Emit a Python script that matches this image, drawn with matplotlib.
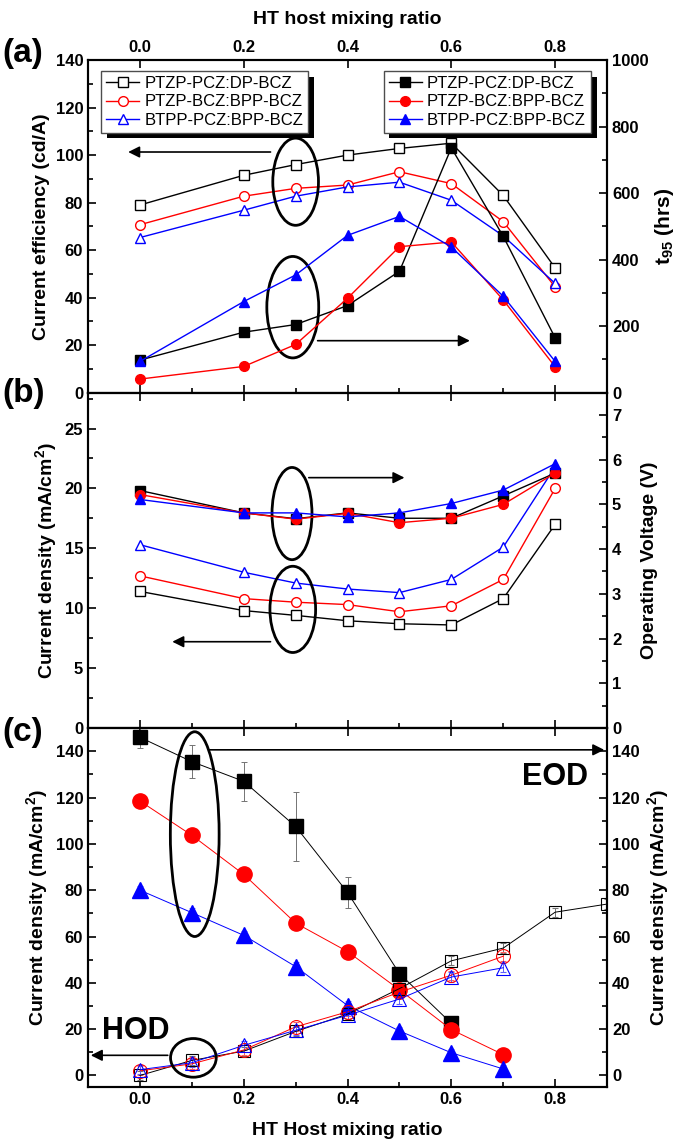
import matplotlib
matplotlib.use("Agg")
import matplotlib.pyplot as plt
import matplotlib.patheffects as pe
from matplotlib.patches import Ellipse
from matplotlib.ticker import MultipleLocator

plt.rcParams['font.family'] = ['Liberation Sans', 'DejaVu Sans']
plt.rcParams['mathtext.fontset'] = 'custom'
plt.rcParams['mathtext.rm'] = 'Liberation Sans:bold'
plt.rcParams['mathtext.it'] = 'Liberation Sans:bold'
plt.rcParams['mathtext.bf'] = 'Liberation Sans:bold'

# ---------------------------------------------------------------------------
# Data
# ---------------------------------------------------------------------------
labels = ["PTZP-PCZ:DP-BCZ", "PTZP-BCZ:BPP-BCZ", "BTPP-PCZ:BPP-BCZ"]
colors = ["black", "red", "blue"]
markers = ["s", "o", "^"]

# (a) current efficiency (cd/A) and t95 (hrs)
ratio_ab = [0.0, 0.2, 0.3, 0.4, 0.5, 0.6, 0.7, 0.8]
ce_ptzp_pcz = [79.0, 91.5, 96.0, 100.0, 102.8, 105.0, 83.0, 52.5]
ce_ptzp_bcz = [70.7, 82.7, 86.0, 87.4, 93.0, 88.0, 72.0, 44.5]
ce_btpp = [65.3, 76.8, 82.7, 86.6, 88.6, 81.0, 66.0, 46.0]
t95_ptzp_pcz = [98, 182, 205, 262, 365, 736, 470, 165]
t95_ptzp_bcz = [41, 79, 145, 284, 439, 453, 279, 78]
t95_btpp = [94, 274, 354, 473, 530, 438, 290, 94]

# (b) current density (mA/cm2) and operating voltage (V)
cd_ptzp_pcz = [11.4, 9.8, 9.4, 8.95, 8.7, 8.6, 10.8, 17.0]
cd_ptzp_bcz = [12.7, 10.8, 10.5, 10.3, 9.7, 10.2, 12.4, 20.0]
cd_btpp = [15.3, 13.0, 12.1, 11.6, 11.3, 12.4, 15.1, 21.8]
v_ptzp_pcz = [5.31, 4.81, 4.68, 4.81, 4.69, 4.69, 5.19, 5.70]
v_ptzp_bcz = [5.22, 4.81, 4.67, 4.80, 4.59, 4.69, 5.00, 5.70]
v_btpp = [5.11, 4.81, 4.81, 4.72, 4.81, 5.02, 5.32, 5.91]

# (c) EOD / HOD current density (mA/cm2)
ratio_eod_pcz = [0.0, 0.1, 0.2, 0.3, 0.4, 0.5, 0.6]
eod_ptzp_pcz = [146.0, 135.5, 127.0, 107.5, 79.0, 44.0, 22.5]
eod_ptzp_pcz_err = [4.5, 7.0, 8.5, 15.0, 6.5, 1.0, 1.0]
ratio_c = [0.0, 0.1, 0.2, 0.3, 0.4, 0.5, 0.6, 0.7]
eod_ptzp_bcz = [118.5, 103.7, 86.8, 65.8, 53.5, 37.0, 19.8, 9.0]
eod_btpp = [80.0, 70.3, 60.5, 47.0, 30.2, 19.2, 9.8, 2.8]
ratio_hod_pcz = [0.0, 0.1, 0.2, 0.3, 0.4, 0.5, 0.6, 0.7, 0.8, 0.9]
hod_ptzp_pcz = [0.0, 6.5, 10.5, 19.0, 26.5, 37.5, 49.5, 55.0, 70.5, 74.0]
hod_ptzp_bcz = [2.0, 5.0, 11.0, 21.0, 27.5, 36.0, 43.3, 51.5]
hod_btpp = [2.5, 5.5, 13.0, 19.5, 26.0, 33.0, 42.5, 46.5]

TICK_FS = 12
LABEL_FS = 14


def style(ax, ymaj, ymin_):
    ax.xaxis.set_major_locator(MultipleLocator(0.2))
    ax.xaxis.set_minor_locator(MultipleLocator(0.1))
    ax.yaxis.set_major_locator(MultipleLocator(ymaj))
    ax.yaxis.set_minor_locator(MultipleLocator(ymin_))
    ax.tick_params(which="both", direction="in", width=1.2,
                   labelsize=TICK_FS)
    ax.tick_params(which="major", length=6)
    ax.tick_params(which="minor", length=3.5)
    for s in ax.spines.values():
        s.set_linewidth(1.5)


def bold_ticks(ax):
    for lab in ax.get_xticklabels() + ax.get_yticklabels():
        lab.set_fontweight("bold")


fig = plt.figure(figsize=(6.85, 11.48), dpi=100)
L, W = 0.1285, 0.7577
ax_a = fig.add_axes([L, 0.6579, W, 0.2898])
ax_b = fig.add_axes([L, 0.3659, W, 0.2921])
ax_c = fig.add_axes([L, 0.0531, W, 0.3127])
ax_a2 = ax_a.twinx()
ax_b2 = ax_b.twinx()
ax_c2 = ax_c.twinx()

# ---------------------------------------------------------------------------
# (a)
# ---------------------------------------------------------------------------
ce = [ce_ptzp_pcz, ce_ptzp_bcz, ce_btpp]
t95 = [t95_ptzp_pcz, t95_ptzp_bcz, t95_btpp]
open_h, fill_h = [], []
for i in range(3):
    h, = ax_a.plot(ratio_ab, ce[i], marker=markers[i], color=colors[i],
                   mfc="white", mec=colors[i], ms=7, lw=1.0, mew=1.0,
                   label=labels[i])
    open_h.append(h)
    h, = ax_a2.plot(ratio_ab, t95[i], marker=markers[i], color=colors[i],
                    mfc=colors[i], mec=colors[i], ms=7, lw=1.0,
                    label=labels[i])
    fill_h.append(h)

ax_a.set_xlim(-0.1, 0.9)
ax_a.set_ylim(0, 140)
ax_a2.set_ylim(0, 1000)
style(ax_a, 20, 10)
style(ax_a2, 200, 100)
ax_a.tick_params(axis="x", top=True, labeltop=True, bottom=True,
                 labelbottom=False)
ax_a.xaxis.set_label_position("top")
ax_a.set_xlabel("HT host mixing ratio", fontsize=LABEL_FS,
                fontweight="bold", labelpad=12)
ax_a.set_ylabel("Current efficiency (cd/A)", fontsize=LABEL_FS,
                fontweight="bold", labelpad=4)
ax_a2.set_ylabel("t$_{95}$ (hrs)", fontsize=LABEL_FS + 1, fontweight="bold",
                 labelpad=3)

shadow = [pe.withSimplePatchShadow(offset=(4, -4), shadow_rgbFace="k",
                                   alpha=1.0)]
leg_kw = dict(fontsize=12, fancybox=False, edgecolor="0.3",
              framealpha=1.0, borderpad=0.3, labelspacing=0.2,
              handlelength=2.0, handletextpad=0.3, borderaxespad=0.0)
leg1 = ax_a2.legend(handles=open_h, loc="upper left",
                    bbox_to_anchor=(0.025, 0.967), **leg_kw)
leg1.get_frame().set_path_effects(shadow)
ax_a2.add_artist(leg1)
leg2 = ax_a2.legend(handles=fill_h, loc="upper right",
                    bbox_to_anchor=(0.969, 0.967), **leg_kw)
leg2.get_frame().set_path_effects(shadow)

arrow_kw = dict(arrowstyle="-|>", color="black", lw=1.2, mutation_scale=17)
ax_a.add_patch(Ellipse((0.30, 88.8), 0.088, 36.7, fill=False, lw=2.0,
                       ec="black", zorder=5))
ax_a.annotate("", xy=(-0.028, 101.3), xytext=(0.257, 101.3),
              arrowprops=arrow_kw)
ax_a.add_patch(Ellipse((0.2945, 36.0), 0.10, 42.7, fill=False, lw=2.0,
                       ec="black", zorder=5))
ax_a.annotate("", xy=(0.641, 21.9), xytext=(0.337, 21.9),
              arrowprops=arrow_kw)

# ---------------------------------------------------------------------------
# (b)
# ---------------------------------------------------------------------------
cd = [cd_ptzp_pcz, cd_ptzp_bcz, cd_btpp]
volt = [v_ptzp_pcz, v_ptzp_bcz, v_btpp]
for i in range(3):
    ax_b.plot(ratio_ab, cd[i], marker=markers[i], color=colors[i],
              mfc="white", mec=colors[i], ms=7, lw=1.0, mew=1.0)
    ax_b2.plot(ratio_ab, volt[i], marker=markers[i], color=colors[i],
               mfc=colors[i], mec=colors[i], ms=7, lw=1.0)

ax_b.set_xlim(-0.1, 0.9)
ax_b.set_ylim(0, 28)
ax_b2.set_ylim(0, 7.5)
style(ax_b, 5, 2.5)
style(ax_b2, 1, 0.5)
ax_b.tick_params(axis="x", top=True, bottom=True, labelbottom=False)
ax_b.set_ylabel("Current density (mA/cm$^2$)", fontsize=LABEL_FS,
                fontweight="bold", labelpad=4)
ax_b2.set_ylabel("Operating Voltage (V)", fontsize=LABEL_FS,
                 fontweight="bold", labelpad=14)

ax_b.add_patch(Ellipse((0.293, 17.9), 0.077, 7.7, fill=False, lw=2.0,
                       ec="black", zorder=5))
ax_b.annotate("", xy=(0.515, 20.9), xytext=(0.32, 20.9),
              arrowprops=arrow_kw)
ax_b.add_patch(Ellipse((0.2945, 9.9), 0.088, 7.2, fill=False, lw=2.0,
                       ec="black", zorder=5))
ax_b.annotate("", xy=(0.057, 7.2), xytext=(0.257, 7.2),
              arrowprops=arrow_kw)

# ---------------------------------------------------------------------------
# (c)
# ---------------------------------------------------------------------------
eb_kw = dict(elinewidth=0.7, capsize=2.5, capthick=0.7, lw=0.7)
ax_c.errorbar(ratio_eod_pcz, eod_ptzp_pcz, yerr=eod_ptzp_pcz_err,
              marker="s", color="black", ms=10, ecolor="0.45", **eb_kw)
ax_c.errorbar(ratio_c, eod_ptzp_bcz, yerr=1.0, marker="o", color="red",
              ms=11, ecolor="#ff8080", **eb_kw)
ax_c.errorbar(ratio_c, eod_btpp, yerr=1.8, marker="^", color="blue",
              ms=11, ecolor="#8080ff", **eb_kw)

ax_c.errorbar(ratio_hod_pcz, hod_ptzp_pcz, yerr=2.0, marker="s",
              color="black", mfc="none", ms=9, mew=0.8, ecolor="0.45",
              **eb_kw)
ax_c.errorbar(ratio_c, hod_ptzp_bcz, yerr=2.0, marker="o", color="red",
              mfc="none", ms=10, mew=0.8, ecolor="#ff6060", **eb_kw)
ax_c.errorbar(ratio_c, hod_btpp, yerr=2.0, marker="^", color="blue",
              mfc="none", ms=10, mew=0.8, ecolor="#6060ff", **eb_kw)

ax_c.set_xlim(-0.1, 0.9)
ax_c.set_ylim(-5, 150)
ax_c2.set_ylim(-5, 150)
style(ax_c, 20, 10)
style(ax_c2, 20, 10)
ax_c.tick_params(axis="x", top=True, bottom=True)
ax_c.set_xlabel("HT Host mixing ratio", fontsize=LABEL_FS,
                fontweight="bold", labelpad=11)
ax_c.set_ylabel("Current density (mA/cm$^2$)", fontsize=LABEL_FS,
                fontweight="bold", labelpad=4)
ax_c2.set_ylabel("Current density (mA/cm$^2$)", fontsize=LABEL_FS,
                 fontweight="bold", labelpad=4)

ax_c.add_patch(Ellipse((0.1056, 104.2), 0.094, 88.4, fill=False, lw=2.0,
                       ec="black", zorder=5))
ax_c.annotate("", xy=(0.9, 140.6), xytext=(0.129, 140.6),
              arrowprops=arrow_kw, annotation_clip=False)
ax_c.add_patch(Ellipse((0.103, 7.6), 0.088, 16.7, fill=False, lw=2.0,
                       ec="black", zorder=5))
ax_c.annotate("", xy=(-0.1, 8.7), xytext=(0.059, 8.7),
              arrowprops=arrow_kw, annotation_clip=False)
ax_c.text(0.864, 129, "EOD", fontsize=22, fontweight="bold",
          ha="right", va="center")
ax_c.text(-0.074, 19, "HOD", fontsize=22, fontweight="bold",
          ha="left", va="center")

for ax in (ax_a, ax_a2, ax_b, ax_b2, ax_c, ax_c2):
    bold_ticks(ax)

for y, s in [(0.953, "(a)"), (0.657, "(b)"), (0.362, "(c)")]:
    fig.text(0.004, y, s, fontsize=24, fontweight="bold", va="center",
             ha="left")

fig.savefig("out.png", dpi=100)
